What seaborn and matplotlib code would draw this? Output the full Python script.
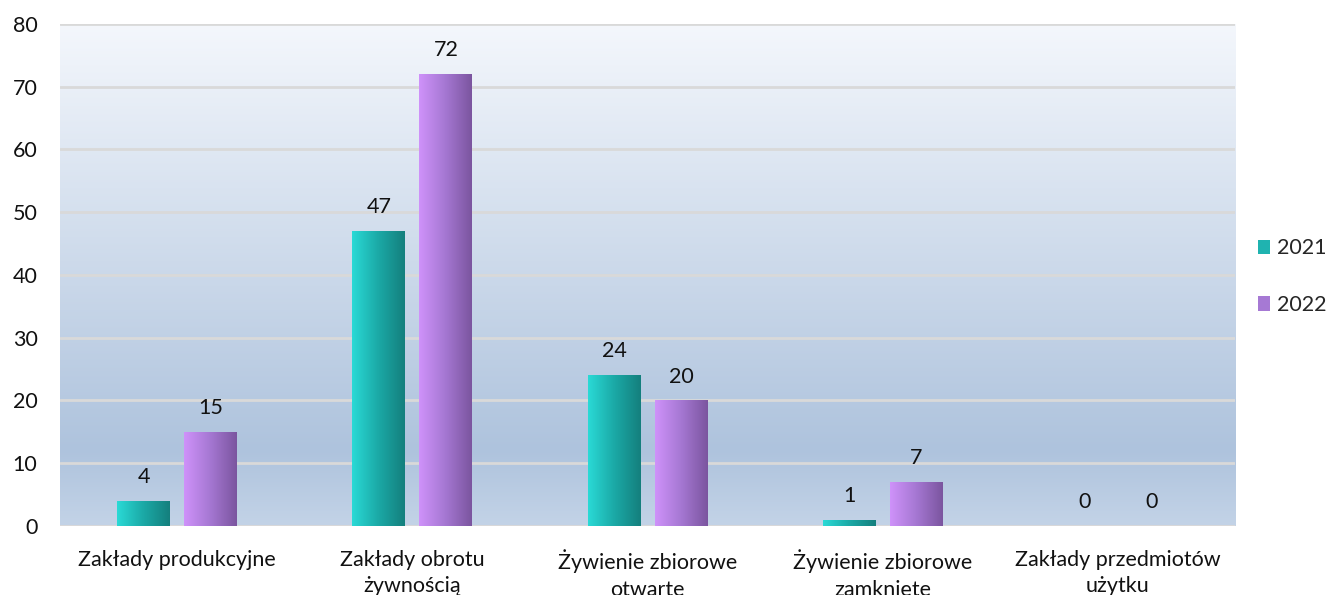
import numpy as np
import pandas as pd
import seaborn as sns
import matplotlib.pyplot as plt
from matplotlib.colors import LinearSegmentedColormap
from matplotlib.patches import Patch

# data
categories = ["Zakłady produkcyjne", "Zakłady obrotu\nżywnością", "Żywienie zbiorowe\notwarte",
              "Żywienie zbiorowe\nzamknięte", "Zakłady przedmiotów\nużytku"]
years = ["2021", "2022"]
values_2021 = [4, 47, 24, 1, 0]
values_2022 = [15, 72, 20, 7, 0]

df = pd.DataFrame({
    "kategoria": categories * 2,
    "rok": [years[0]] * 5 + [years[1]] * 5,
    "liczba": values_2021 + values_2022,
})

sns.set_style("white")
plt.rcParams["font.family"] = ["Lato", "DejaVu Sans"]
fs = 15.5

fig = plt.figure(figsize=(13.27, 5.95), dpi=100)
ax = fig.add_axes([0.045, 0.116, 0.886, 0.844])

# gradient backgrounds for plot area and bars
bg_cmap = LinearSegmentedColormap.from_list(
    "bg", [(0, "#c3d3e7"), (0.15, "#aec3dd"), (1, "#f4f7fc")])
bar_cmaps = {
    "2021": LinearSegmentedColormap.from_list("c21", ["#2adad6", "#1ba9a6", "#147f7d"]),
    "2022": LinearSegmentedColormap.from_list("c22", ["#cf92fa", "#a577d2", "#7b559f"]),
}
palette = {"2021": "#1fb3b0", "2022": "#a679d4"}

sns.barplot(data=df, x="kategoria", y="liczba", hue="rok", palette=palette,
            width=0.57, gap=0.21, ax=ax, legend=False, zorder=3,
            edgecolor="none", linewidth=0)

ax.set_ylim(0, 80)
ax.set_xlim(-0.5, len(categories) - 0.5)
ax.imshow(np.linspace(0, 1, 256).reshape(-1, 1), cmap=bg_cmap, origin="lower",
          extent=[-0.5, len(categories) - 0.5, 0, 80], aspect="auto", zorder=0)

grad = np.linspace(0, 1, 256).reshape(1, -1)
for cont, yr in zip(ax.containers, years):
    for bar in cont:
        x0, y0 = bar.get_x(), bar.get_y()
        w, h = bar.get_width(), bar.get_height()
        if h > 0:
            im = ax.imshow(grad, cmap=bar_cmaps[yr], extent=[x0, x0 + w, y0, y0 + h],
                           aspect="auto", zorder=4)
            im.set_clip_path(bar)
    ax.bar_label(cont, padding=10, fontsize=fs, color="#111111")

ax.set_yticks(range(0, 81, 10))
ax.grid(axis="y", color="#d9d9d9", linewidth=2, zorder=1)
ax.set_axisbelow(True)
for s in ax.spines.values():
    s.set_visible(False)
ax.axhline(0, color="#d9d9d9", linewidth=2, zorder=2)
ax.set_xlabel("")
ax.set_ylabel("")
ax.tick_params(axis="both", length=0, labelsize=fs, colors="#111111")
ax.tick_params(axis="x", pad=17)
ax.tick_params(axis="y", pad=16)
for t in ax.get_xticklabels():
    t.set_linespacing(1.4)

# legend on the right
handles = [Patch(facecolor=palette[y], edgecolor="none") for y in years]
fig.legend(handles, years, loc="center left", bbox_to_anchor=(0.948, 0.535),
           frameon=False, fontsize=fs, handlelength=0.55, handleheight=0.65,
           handletextpad=0.35, labelspacing=1.7, borderpad=0, borderaxespad=0)

fig.savefig("out.png", dpi=100)
